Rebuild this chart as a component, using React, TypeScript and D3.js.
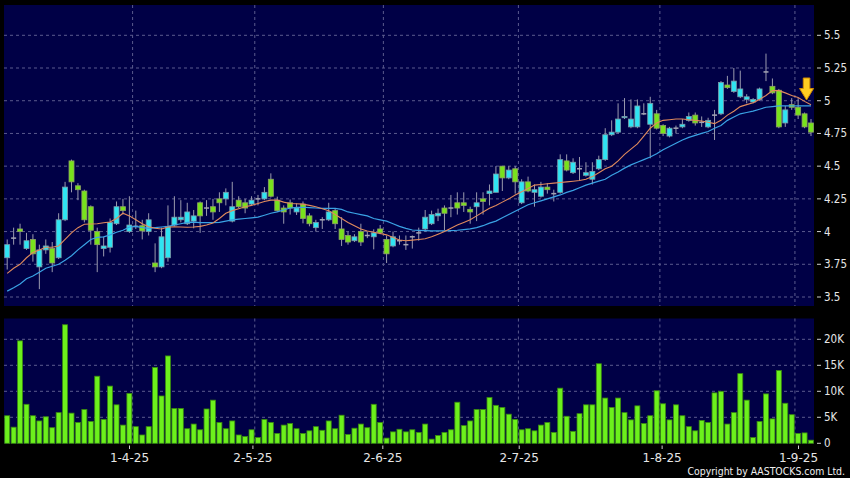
import React from 'react';
import * as d3 from 'd3';

const opens = [
  3.80, 3.95, 4.02, 3.87, 3.94, 3.73, 3.86, 3.87, 3.80, 4.09,
  4.54, 4.35, 4.31, 4.19, 4.00, 3.87, 3.88, 4.06, 4.19, 4.00,
  4.04, 4.045, 4.00, 3.76, 3.73, 3.80, 4.05, 4.09, 4.06, 4.08,
  4.22, 4.18, 4.19, 4.25, 4.25, 4.08, 4.24, 4.22, 4.21, 4.25,
  4.25, 4.40, 4.24, 4.18, 4.22, 4.15, 4.21, 4.12, 4.03, 4.09,
  4.09, 4.16, 4.02, 3.97, 3.93, 4.00, 3.97, 3.96, 4.02, 3.94,
  3.89, 3.93, 3.90, 3.96, 3.99, 4.02, 4.06, 4.12, 4.18, 4.18,
  4.22, 4.22, 4.17, 4.19, 4.25, 4.29, 4.30, 4.50, 4.41, 4.48,
  4.22, 4.38, 4.30, 4.27, 4.34, 4.29, 4.30, 4.54, 4.45, 4.48,
  4.43, 4.40, 4.48, 4.55, 4.74, 4.76, 4.87, 4.80, 4.80, 4.90,
  4.82, 4.90, 4.81, 4.73, 4.79, 4.80, 4.85, 4.89, 4.835, 4.80,
  4.89, 4.90, 5.12, 5.07, 5.03, 5.01, 4.99, 5.01, 5.22, 5.11,
  5.08, 4.83, 4.97, 4.95, 4.90, 4.83,
];
const closes = [
  3.90, 3.95, 4.00, 3.93, 3.83, 3.86, 3.89, 3.76, 4.09, 4.34,
  4.38, 4.32, 4.09, 4.01, 3.90, 3.89, 4.07, 4.19, 4.16, 4.05,
  4.04, 4.005, 4.09, 3.73, 3.96, 4.04, 4.11, 4.11, 4.15, 4.12,
  4.12, 4.18, 4.15, 4.22, 4.30, 4.19, 4.19, 4.18, 4.24, 4.25,
  4.30, 4.27, 4.16, 4.15, 4.18, 4.18, 4.10, 4.06, 4.07, 4.09,
  4.15, 4.06, 3.94, 3.92, 3.96, 3.92, 3.97, 3.99, 3.99, 3.83,
  3.96, 3.93, 3.90, 3.96, 3.99, 4.11, 4.13, 4.14, 4.14, 4.18,
  4.18, 4.20, 4.15, 4.22, 4.23, 4.31, 4.44, 4.41, 4.47, 4.38,
  4.38, 4.31, 4.32, 4.34, 4.32, 4.29, 4.55, 4.47, 4.53, 4.48,
  4.45, 4.46, 4.55, 4.74, 4.76, 4.86, 4.88, 4.86, 4.96, 4.90,
  4.98, 4.79, 4.75, 4.79, 4.79, 4.82, 4.88, 4.83, 4.835, 4.85,
  4.89, 5.14, 5.10, 5.15, 5.09, 5.03, 5.01, 5.09, 5.22, 5.06,
  4.80, 4.93, 4.95, 4.89, 4.80, 4.76,
];
const highs = [
  3.94, 4.03, 4.06, 3.99, 3.98, 3.90, 3.94, 3.92, 4.14, 4.38,
  4.55, 4.37, 4.32, 4.20, 4.03, 3.96, 4.10, 4.23, 4.25, 4.27,
  4.16, 4.09, 4.14, 3.91, 4.03, 4.20, 4.27, 4.24, 4.22, 4.165,
  4.23, 4.24, 4.25, 4.30, 4.33, 4.38, 4.27, 4.25, 4.27, 4.28,
  4.34, 4.445, 4.267, 4.20, 4.245, 4.215, 4.23, 4.14, 4.09, 4.11,
  4.22, 4.18, 4.11, 4.00, 3.98, 4.06, 4.00, 4.017, 4.05, 3.97,
  4.00, 3.97, 3.97, 3.97, 4.03, 4.165, 4.16, 4.175, 4.20, 4.28,
  4.30, 4.30, 4.19, 4.30, 4.30, 4.36, 4.50, 4.50, 4.50, 4.50,
  4.40, 4.42, 4.36, 4.38, 4.37, 4.32, 4.59, 4.59, 4.56, 4.57,
  4.53, 4.53, 4.58, 4.79, 4.85, 4.98, 5.02, 5.01, 5.01, 4.98,
  5.03, 4.93, 4.82, 4.80, 4.81, 4.86, 4.91, 4.91, 4.88, 4.87,
  4.93, 5.15, 5.19, 5.25, 5.23, 5.05, 5.02, 5.10, 5.36, 5.17,
  5.09, 4.96, 5.02, 5.02, 4.91, 4.86,
];
const lows = [
  3.71, 3.90, 3.90, 3.86, 3.77, 3.56, 3.83, 3.69, 3.79, 4.08,
  4.30, 4.24, 4.07, 3.90, 3.69, 3.81, 3.84, 4.05, 4.13, 3.99,
  4.02, 3.94, 3.97, 3.69, 3.72, 3.77, 4.04, 4.07, 4.05, 4.025,
  3.99, 4.12, 4.09, 4.15, 4.20, 4.07, 4.18, 4.14, 4.20, 4.20,
  4.24, 4.26, 4.15, 4.06, 4.13, 4.127, 4.063, 4.04, 4.00, 4.02,
  4.08, 4.02, 3.89, 3.90, 3.92, 3.89, 3.95, 3.864, 3.98, 3.76,
  3.88, 3.90, 3.86, 3.87, 3.93, 4.00, 4.05, 4.08, 4.01, 4.11,
  4.13, 4.15, 4.06, 4.08, 4.13, 4.20, 4.30, 4.31, 4.40, 4.29,
  4.21, 4.30, 4.19, 4.26, 4.29, 4.23, 4.29, 4.46, 4.44, 4.39,
  4.42, 4.36, 4.47, 4.54, 4.73, 4.75, 4.86, 4.79, 4.79, 4.89,
  4.56, 4.78, 4.73, 4.72, 4.75, 4.79, 4.84, 4.81, 4.80, 4.79,
  4.70, 4.89, 5.09, 5.06, 5.02, 4.98, 4.98, 5.00, 5.15, 5.05,
  4.79, 4.80, 4.93, 4.86, 4.79, 4.73,
];
// volume in thousands
const volumes = [
  5.3, 3.1, 19.7, 7.5, 5.3, 4.3, 5.1, 3.0, 5.9, 22.8,
  5.8, 4.0, 6.5, 4.2, 12.9, 4.6, 11.0, 7.4, 3.5, 9.6,
  3.2, 1.6, 3.2, 14.6, 9.1, 16.8, 6.7, 6.7, 2.8, 3.7,
  2.6, 6.6, 8.3, 4.0, 2.8, 4.3, 1.6, 1.3, 2.6, 1.1,
  4.6, 4.0, 1.9, 3.5, 3.8, 2.8, 1.9, 2.4, 3.2, 2.5,
  4.3, 2.8, 5.4, 1.7, 2.9, 3.7, 3.0, 7.5, 4.0, 1.0,
  2.2, 2.7, 2.2, 2.6, 2.1, 3.7, 0.8, 1.5, 2.1, 2.6,
  7.9, 3.4, 4.3, 6.5, 6.5, 8.8, 7.3, 6.9, 5.6, 4.6,
  2.6, 2.8, 2.4, 3.5, 4.0, 2.1, 10.6, 5.2, 2.3, 5.7,
  7.4, 7.4, 15.3, 8.7, 6.9, 8.7, 5.9, 4.5, 7.2, 3.8,
  5.3, 10.1, 7.6, 4.5, 7.4, 5.3, 3.2, 2.4, 4.4, 4.0,
  9.7, 10.0, 3.7, 5.9, 13.4, 8.3, 1.1, 4.2, 9.5, 4.7,
  14.0, 7.7, 5.5, 1.9, 2.0, 0.6,
];
const maShort = [
  3.68, 3.72, 3.75, 3.80, 3.84, 3.86, 3.88, 3.88, 3.89, 3.94,
  3.99, 4.03, 4.056, 4.058, 4.06, 4.068, 4.073, 4.10, 4.14, 4.12,
  4.09, 4.06, 4.037, 4.025, 4.02, 4.035, 4.037, 4.035, 4.033, 4.035,
  4.04, 4.05, 4.065, 4.10, 4.14, 4.16, 4.175, 4.19, 4.20, 4.215,
  4.23, 4.24, 4.24, 4.225, 4.215, 4.213, 4.21, 4.20, 4.19, 4.175,
  4.16, 4.13, 4.10, 4.07, 4.045, 4.02, 4.005, 3.995, 3.985, 3.975,
  3.955, 3.935, 3.93, 3.935, 3.94, 3.945, 3.96, 3.98, 4.00, 4.025,
  4.05, 4.07, 4.09, 4.12, 4.15, 4.178, 4.20, 4.225, 4.25, 4.28,
  4.305, 4.33, 4.355, 4.36, 4.365, 4.37, 4.375, 4.38, 4.385, 4.39,
  4.40, 4.42, 4.45, 4.48, 4.50, 4.54, 4.59, 4.63, 4.67, 4.73,
  4.79, 4.83, 4.85, 4.855, 4.86, 4.86, 4.855, 4.85, 4.845, 4.835,
  4.825, 4.85, 4.89, 4.92, 4.955, 4.97, 4.985, 5.01, 5.04, 5.077,
  5.077, 5.06, 5.04, 5.025, 4.995, 4.97,
];
const maLong = [
  3.545, 3.57, 3.60, 3.64, 3.66, 3.69, 3.72, 3.735, 3.75, 3.78,
  3.815, 3.86, 3.90, 3.94, 3.955, 3.96, 3.975, 3.995, 4.01, 4.035,
  4.04, 4.03, 4.025, 4.03, 4.035, 4.04, 4.05, 4.06, 4.07, 4.072,
  4.068, 4.068, 4.068, 4.07, 4.08, 4.09, 4.095, 4.10, 4.105, 4.11,
  4.125, 4.14, 4.15, 4.165, 4.18, 4.185, 4.186, 4.183, 4.18, 4.178,
  4.178, 4.178, 4.17, 4.15, 4.14, 4.13, 4.12, 4.10, 4.09, 4.08,
  4.06, 4.04, 4.025, 4.012, 4.009, 4.007, 4.005, 4.005, 4.005, 4.007,
  4.01, 4.015, 4.02, 4.03, 4.045, 4.065, 4.08, 4.105, 4.13, 4.155,
  4.18, 4.205, 4.22, 4.235, 4.25, 4.265, 4.28, 4.30, 4.315, 4.335,
  4.355, 4.37, 4.385, 4.40, 4.43, 4.455, 4.485, 4.51, 4.53, 4.55,
  4.57, 4.595, 4.625, 4.65, 4.675, 4.70, 4.72, 4.735, 4.75, 4.765,
  4.79, 4.81, 4.85, 4.875, 4.90, 4.91, 4.92, 4.935, 4.95, 4.955,
  4.96, 4.96, 4.96, 4.96, 4.96, 4.96,
];
const priceTicks = [3.5, 3.75, 4, 4.25, 4.5, 4.75, 5, 5.25, 5.5];
const priceTickLabels = ['3.5', '3.75', '4', '4.25', '4.5', '4.75', '5', '5.25', '5.5'];
const volTicks = [0, 5, 10, 15, 20];
const volTickLabels = ['0', '5K', '10K', '15K', '20K'];
const monthStartIndex = [20, 39, 59, 80, 102, 123];
const monthLabels = ['1-4-25', '2-5-25', '2-6-25', '2-7-25', '1-8-25', '1-9-25'];
const signalIndex = 124;

const N = opens.length;
const P1 = { x0: 4, x1: 814, y0: 5, y1: 306 };
const P2 = { x0: 4, x1: 814, y0: 318.5, y1: 443.5 };
const GRID = '#5a5a8e';
const NAVY = '#000046';
const FONT = "'DejaVu Sans', sans-serif";
const FONT_C = "'DejaVu Sans Condensed', 'DejaVu Sans', sans-serif";

export default function App() {
  const x = d3.scaleLinear().domain([0, N - 1]).range([7.2, 811]);
  const xLabel = d3.scaleLinear().domain([0, N - 1]).range([-0.4, 811.5]);
  const yP = d3.scaleLinear().domain([3.5, 5.5]).range([297, 35.3]);
  const yV = d3.scaleLinear().domain([0, 20]).range([443.3, 339.3]);
  const bw = 5;

  const line = d3
    .line<number>()
    .x((_, i) => x(i))
    .y((d) => yP(d));

  const ap = (i: number) => x(signalIndex) + 2;
  const ax = ap(0);

  return (
    <svg
      width={850}
      height={478}
      style={{ position: 'absolute', left: 0, top: 0, background: '#000' }}
    >
      <rect x={0} y={0} width={850} height={478} fill="#000" />
      <rect x={P1.x0} y={P1.y0} width={P1.x1 - P1.x0} height={P1.y1 - P1.y0} fill={NAVY} />
      <rect x={P2.x0} y={P2.y0} width={P2.x1 - P2.x0} height={P2.y1 - P2.y0} fill={NAVY} />

      {/* price grid */}
      {priceTicks.map((p) => (
        <line key={'pg' + p} x1={P1.x0} x2={P1.x1} y1={yP(p)} y2={yP(p)} stroke={GRID} strokeDasharray="3 3" />
      ))}
      {volTicks.slice(1).map((v) => (
        <line key={'vg' + v} x1={P2.x0} x2={P2.x1} y1={yV(v)} y2={yV(v)} stroke={GRID} strokeDasharray="3 3" />
      ))}
      {monthStartIndex.map((i) => (
        <g key={'mg' + i}>
          <line x1={x(i - 0.5)} x2={x(i - 0.5)} y1={P1.y0} y2={P1.y1} stroke={GRID} strokeDasharray="3 3" />
          <line x1={x(i - 0.5)} x2={x(i - 0.5)} y1={P2.y0} y2={P2.y1} stroke={GRID} strokeDasharray="3 3" />
        </g>
      ))}

      {/* candles */}
      {opens.map((o, i) => {
        const c = closes[i];
        const cx = x(i);
        const top = yP(Math.max(o, c));
        const bot = yP(Math.min(o, c));
        const doji = o === c;
        const up = c > o;
        return (
          <g key={'c' + i}>
            <line x1={cx} x2={cx} y1={yP(highs[i])} y2={yP(lows[i])} stroke="#9a9aae" strokeWidth={1} />
            {doji ? (
              <rect x={cx - bw / 2} y={top - 0.75} width={bw} height={1.5} fill="#a4a4b4" />
            ) : (
              <rect
                x={cx - bw / 2}
                y={top}
                width={bw}
                height={Math.max(1, bot - top)}
                fill={up ? '#2fe4f2' : '#78e21c'}
                stroke={up ? '#7c9aa8' : '#8ea064'}
                strokeWidth={0.8}
              />
            )}
          </g>
        );
      })}

      {/* moving averages */}
      <path d={line(maLong) || ''} fill="none" stroke="#3aa2e4" strokeWidth={1.2} />
      <path d={line(maShort) || ''} fill="none" stroke="#e08a5c" strokeWidth={1.1} />

      {/* signal arrow */}
      <path
        d={`M${ax - 3.3},78 L${ax + 3.3},78 L${ax + 3.3},88.5 L${ax + 7},88.5 L${ax},100 L${ax - 7},88.5 L${ax - 3.3},88.5 Z`}
        fill="#ffcc22"
        stroke="#d08a00"
        strokeWidth={1}
      />

      {/* volume bars */}
      {volumes.map((v, i) => (
        <rect
          key={'v' + i}
          x={x(i) - bw / 2}
          y={yV(v)}
          width={bw}
          height={yV(0) - yV(v)}
          fill="#6cf01c"
          stroke="#3a8a10"
          strokeWidth={0.8}
        />
      ))}

      {/* price axis */}
      {priceTicks.map((p, k) => (
        <g key={'pt' + p}>
          <line x1={817} x2={821} y1={yP(p)} y2={yP(p)} stroke="#cfcfcf" />
          <text x={824} y={yP(p) + 4} fill="#e6e6e6" fontSize={11.5} fontFamily={FONT_C}>
            {priceTickLabels[k]}
          </text>
        </g>
      ))}
      {volTicks.map((v, k) => (
        <g key={'vt' + v}>
          <line x1={817} x2={821} y1={yV(v)} y2={yV(v)} stroke="#cfcfcf" />
          <text x={824} y={yV(v) + 4} fill="#e6e6e6" fontSize={11.5} fontFamily={FONT_C}>
            {volTickLabels[k]}
          </text>
        </g>
      ))}

      {/* date axis */}
      {monthStartIndex.map((i, k) => (
        <g key={'dt' + i}>
          <line x1={xLabel(i)} x2={xLabel(i)} y1={445.5} y2={449} stroke="#cfcfcf" />
          <text x={xLabel(i)} y={462} textAnchor="middle" fill="#e6e6e6" fontSize={12} fontFamily={FONT}>
            {monthLabels[k]}
          </text>
        </g>
      ))}

      <text x={845} y={475} textAnchor="end" fill="#f0f0f0" fontSize={10.4} fontFamily={FONT_C}>
        Copyright by AASTOCKS.com Ltd.
      </text>
    </svg>
  );
}
